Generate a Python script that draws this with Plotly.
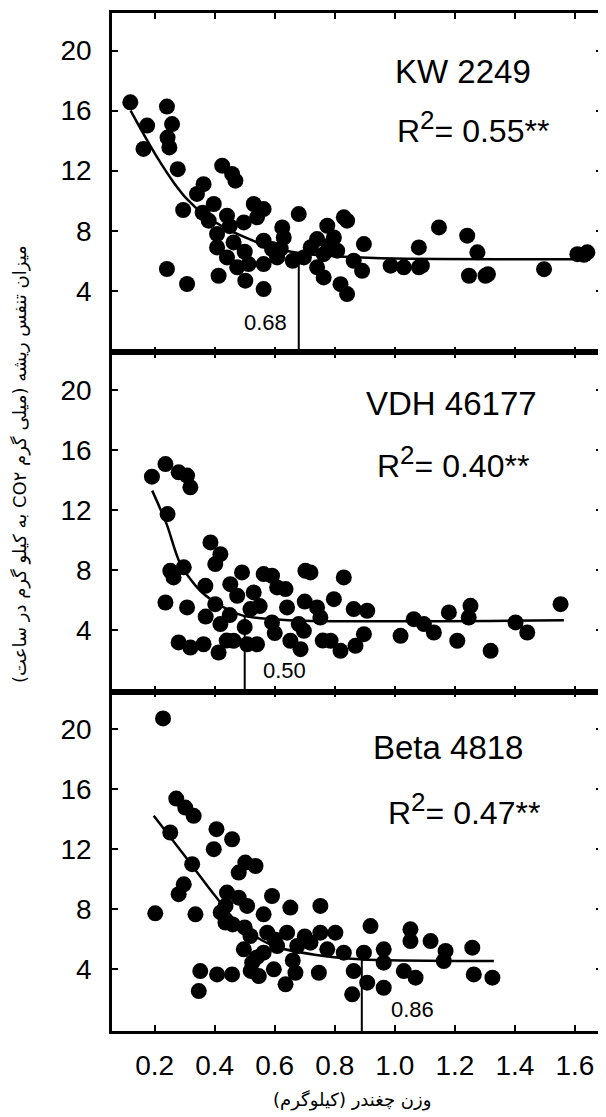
import plotly.graph_objects as go
from plotly.subplots import make_subplots

# ---------------- data ----------------
cultivars = ["KW 2249", "VDH 46177", "Beta 4818"]
r2_values = ["0.55**", "0.40**", "0.47**"]
breakpoint_labels = ["0.68", "0.50", "0.86"]
breakpoint_x = [0.68, 0.50, 0.89]
breakpoint_top = [6.45, 4.95, 4.67]

x_ticks = [0.2, 0.4, 0.6, 0.8, 1.0, 1.2, 1.4, 1.6]
x_ticktext = ["0.2", "0.4", "0.6", "0.8", "1.0", "1.2", "1.4", "1.6"]
y_ticks = [4, 8, 12, 16, 20]

kw_x = [0.119, 0.175, 0.163, 0.241, 0.258, 0.243, 0.249, 0.277, 0.241, 0.308, 0.295, 0.341, 0.363,
        0.425, 0.458, 0.469, 0.397, 0.38, 0.441, 0.408, 0.408, 0.463, 0.441, 0.413, 0.475, 0.502,
        0.513, 0.497, 0.53, 0.563, 0.541, 0.563, 0.591, 0.563, 0.563, 0.625, 0.63, 0.608, 0.68,
        0.697, 0.741, 0.775, 0.797, 0.763, 0.808, 0.741, 0.763, 0.819, 0.841, 0.841, 0.83, 0.863,
        0.897, 0.891, 0.986, 1.03, 1.08, 1.09, 1.08, 1.147, 1.241, 1.275, 1.247, 1.302, 1.31,
        1.497, 1.608, 1.641, 1.63, 0.62, 0.66, 0.72, 0.78, 0.45, 0.50, 0.36]
kw_y = [16.55, 15.0, 13.45, 16.27, 15.1, 14.2, 13.55, 12.1, 5.45, 4.45, 9.38, 10.45, 11.1,
        12.33, 11.78, 11.33, 9.78, 8.67, 9.0, 7.78, 6.89, 7.22, 6.22, 5.0, 5.56, 4.67,
        5.78, 8.55, 9.78, 9.44, 8.89, 7.33, 6.78, 5.78, 4.11, 8.22, 7.55, 6.22, 9.11,
        6.22, 7.44, 8.33, 7.55, 6.44, 6.67, 5.56, 4.89, 4.44, 3.78, 8.67, 8.89, 6.0,
        7.11, 5.33, 5.67, 5.56, 5.56, 5.67, 6.89, 8.22, 7.67, 6.56, 5.0, 5.0, 5.1,
        5.44, 6.44, 6.56, 6.4, 6.8, 6.0, 6.9, 7.0, 8.3, 6.6, 9.2]

vdh_x = [0.191, 0.236, 0.28, 0.308, 0.319, 0.243, 0.252, 0.263, 0.297, 0.236, 0.308, 0.28, 0.319,
         0.363, 0.369, 0.386, 0.419, 0.402, 0.402, 0.419, 0.413, 0.452, 0.491, 0.475, 0.463,
         0.508, 0.541, 0.563, 0.591, 0.53, 0.608, 0.636, 0.641, 0.591, 0.652, 0.686, 0.702,
         0.719, 0.68, 0.697, 0.741, 0.752, 0.797, 0.786, 0.819, 0.83, 0.863, 0.908, 0.897,
         0.869, 1.019, 1.063, 1.097, 1.13, 1.18, 1.208, 1.252, 1.246, 1.319, 1.402, 1.441,
         1.552, 0.519, 0.45, 0.50, 0.55, 0.60, 0.70, 0.37, 0.44, 0.76]
vdh_y = [14.22, 15.06, 14.51, 14.29, 13.51, 11.73, 7.95, 7.51, 8.18, 5.84, 5.51, 3.18, 2.84,
         3.06, 6.95, 9.84, 9.06, 8.4, 5.73, 4.4, 2.51, 7.06, 7.84, 6.29, 3.29,
         3.06, 3.06, 7.73, 7.62, 6.51, 6.84, 6.73, 5.51, 4.51, 3.29, 2.73, 7.95,
         7.84, 4.4, 3.95, 5.51, 4.84, 6.06, 3.29, 2.62, 7.51, 5.4, 5.29, 3.73,
         2.95, 3.62, 4.73, 4.4, 3.84, 5.18, 3.29, 5.62, 4.84, 2.62, 4.51, 3.84,
         5.73, 5.4, 5.0, 4.2, 5.6, 3.8, 5.9, 4.9, 3.3, 3.3]

beta_x = [0.228, 0.202, 0.272, 0.302, 0.33, 0.252, 0.325, 0.297, 0.28, 0.336, 0.406, 0.458,
          0.397, 0.502, 0.536, 0.48, 0.441, 0.436, 0.48, 0.508, 0.563, 0.436, 0.591, 0.652,
          0.752, 0.919, 0.519, 0.575, 0.641, 0.752, 0.802, 0.497, 0.563, 0.608, 0.675, 0.719,
          0.775, 0.83, 0.897, 0.963, 1.052, 1.052, 1.119, 1.169, 1.163, 1.258, 0.352, 0.408,
          0.458, 0.347, 0.525, 0.547, 0.597, 0.636, 0.669, 0.747, 0.863, 0.908, 0.858, 0.963,
          1.03, 1.069, 1.263, 1.325, 0.963, 0.42, 0.46, 0.50, 0.54, 0.52, 0.60, 0.66, 0.70]
beta_y = [20.72, 7.74, 15.38, 14.78, 14.23, 13.12, 11.01, 9.67, 9.01, 7.67, 13.34, 12.67,
          12.01, 11.12, 10.89, 10.45, 9.12, 8.23, 8.78, 8.23, 7.67, 7.12, 8.89, 8.12,
          8.23, 6.89, 6.23, 6.45, 6.45, 6.45, 6.45, 5.34, 5.12, 5.56, 5.56, 5.78,
          5.34, 5.12, 5.12, 5.34, 6.67, 5.89, 5.89, 5.23, 4.56, 5.45, 3.89, 3.67,
          3.67, 2.56, 4.45, 3.56, 4.01, 3.01, 3.78, 3.78, 3.89, 3.12, 2.34, 2.78,
          3.89, 3.45, 3.67, 3.45, 4.45, 7.8, 7.0, 6.8, 4.8, 3.9, 6.0, 4.6, 6.2]

kw_fit_x = [0.12, 0.16, 0.208, 0.264, 0.308, 0.363, 0.452, 0.52, 0.586, 0.697, 0.83, 1.0, 1.65]
kw_fit_y = [16.0, 14.55, 12.9, 11.2, 10.1, 9.1, 8.0, 7.4, 6.9, 6.47, 6.27, 6.15, 6.1]
vdh_fit_x = [0.192, 0.24, 0.286, 0.352, 0.43, 0.497, 0.645, 1.563]
vdh_fit_y = [13.29, 11.06, 8.4, 6.62, 5.51, 4.95, 4.66, 4.66]
beta_fit_x = [0.197, 0.3, 0.402, 0.486, 0.597, 0.763, 0.897, 1.33]
beta_fit_y = [14.23, 11.57, 8.89, 6.89, 5.56, 4.89, 4.67, 4.56]

RLE, PDF = "\u202B", "\u202C"
y_title = RLE + "میزان تنفس ریشه (میلی گرم CO۲ به کیلو گرم در ساعت)" + PDF
x_title = RLE + "وزن چغندر (کیلوگرم)" + PDF

# annotation positions (data coords of each panel)
name_pos = [(1.226, 18.62), (1.189, 19.09), (1.176, 18.78)]
r2_pos = [(1.259, 14.9), (1.193, 15.2), (1.229, 14.7)]
bp_label_pos = [(0.569, 1.89), (0.633, 1.29), (1.058, 1.34)]

panels = [(kw_x, kw_y, kw_fit_x, kw_fit_y),
          (vdh_x, vdh_y, vdh_fit_x, vdh_fit_y),
          (beta_x, beta_y, beta_fit_x, beta_fit_y)]

FONT = "Liberation Sans, Arial, Helvetica, sans-serif"
PFONT = "DejaVu Sans, Noto Sans, sans-serif"

# the page body adds an 8 px offset; the figure is sized so the plot lands where the reference has it
OFF = 8
W, H = 606 - OFF, 1117 - OFF
ML, MT, MB = 112 - OFF, 13 - OFF, 86
PLOT_H = H - MT - MB
PLOT_W = W - ML - 4

fig = make_subplots(rows=3, cols=1, shared_xaxes=True, vertical_spacing=0)

for i, (px, py, fx, fy) in enumerate(panels):
    r = i + 1
    fig.add_trace(go.Scatter(x=px, y=py, mode="markers",
                             marker=dict(size=16, color="black", line=dict(width=0)),
                             showlegend=False, hoverinfo="skip"), row=r, col=1)
    fig.add_trace(go.Scatter(x=fx, y=fy, mode="lines",
                             line=dict(color="black", width=2.5, shape="spline", smoothing=0.8),
                             showlegend=False, hoverinfo="skip"), row=r, col=1)
    fig.add_trace(go.Scatter(x=[breakpoint_x[i], breakpoint_x[i]], y=[breakpoint_top[i], -0.1],
                             mode="lines", line=dict(color="black", width=2),
                             showlegend=False, hoverinfo="skip"), row=r, col=1)
    xr = "x" if r == 1 else f"x{r}"
    yr = "y" if r == 1 else f"y{r}"
    fig.add_annotation(x=name_pos[i][0], y=name_pos[i][1], xref=xr, yref=yr, text=cultivars[i],
                       showarrow=False, font=dict(family=FONT, size=33, color="black"))
    fig.add_annotation(x=r2_pos[i][0], y=r2_pos[i][1], xref=xr, yref=yr,
                       text="R<sup><span style='font-size:26px'>2</span></sup>= " + r2_values[i],
                       showarrow=False, font=dict(family=FONT, size=32, color="black"))
    fig.add_annotation(x=bp_label_pos[i][0], y=bp_label_pos[i][1], xref=xr, yref=yr,
                       text=breakpoint_labels[i], showarrow=False,
                       font=dict(family=FONT, size=22, color="black"))

fig.update_xaxes(range=[0.058, 1.69], tickmode="array", tickvals=x_ticks, ticktext=x_ticktext,
                 ticks="inside", ticklen=6, tickwidth=2, tickcolor="black",
                 showline=True, linewidth=2.5, linecolor="black", mirror="ticks",
                 showgrid=False, zeroline=False, automargin=False,
                 tickfont=dict(family=FONT, size=28, color="black"))
fig.update_xaxes(showticklabels=False, row=1, col=1)
fig.update_xaxes(showticklabels=False, row=2, col=1)
fig.update_xaxes(showticklabels=True, ticklabelstandoff=8, row=3, col=1)

fig.update_yaxes(range=[-0.1, 22.5], tickmode="array", tickvals=y_ticks,
                 ticks="inside", ticklen=6, tickwidth=2, tickcolor="black",
                 showline=True, linewidth=2.5, linecolor="black", mirror="ticks",
                 showgrid=False, zeroline=False, ticklabelstandoff=12, automargin=False,
                 tickfont=dict(family=FONT, size=28, color="black"))

fig.add_annotation(xref="paper", yref="paper", x=(20 - 112) / PLOT_W, y=(1031 - 464) / PLOT_H,
                   text=y_title, textangle=-90, showarrow=False,
                   xanchor="center", yanchor="middle",
                   font=dict(family=PFONT, size=18, color="black"))
fig.add_annotation(xref="paper", yref="paper", x=(352 - 112) / PLOT_W, y=(1031 - 1100) / PLOT_H,
                   text=x_title, showarrow=False, xanchor="center", yanchor="middle",
                   font=dict(family=PFONT, size=18, color="black"))

fig.update_layout(width=W, height=H, margin=dict(l=ML, r=4, t=MT, b=MB),
                  plot_bgcolor="white", paper_bgcolor="white", showlegend=False)

fig.write_html("out.html")
